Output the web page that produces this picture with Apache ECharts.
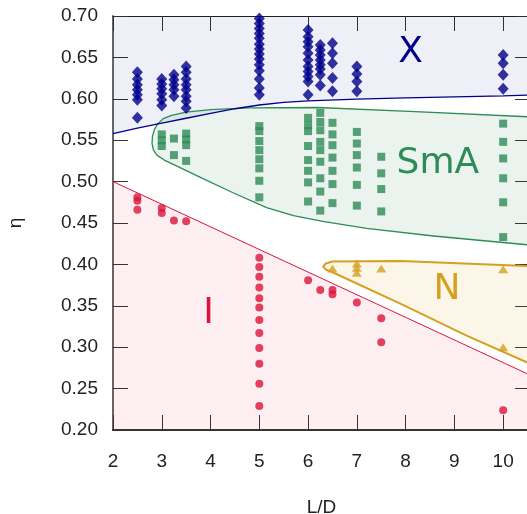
<!DOCTYPE html>
<html>
<head>
<meta charset="utf-8">
<script src="https://cdn.jsdelivr.net/npm/echarts@6/dist/echarts.min.js"></script>
<style>
  html, body { margin: 0; padding: 0; background: #fff; }
  #chart { width: 527px; height: 514px; }
</style>
</head>
<body>
<div id="chart"></div>
<script>
  // L/D columns and packing fractions per phase
  let xLD = [2.5, 3, 3.25, 3.5, 5, 6, 6.25, 6.5, 7, 10]
  let xEta = [
    [0.632, 0.624, 0.617, 0.611, 0.605, 0.599, 0.577],
    [0.624, 0.618, 0.612, 0.606, 0.599, 0.592],
    [0.629, 0.623, 0.617, 0.611, 0.603],
    [0.639, 0.632, 0.624, 0.617, 0.611, 0.603, 0.597, 0.589],
    [0.697, 0.691, 0.685, 0.679, 0.673, 0.666, 0.660, 0.654, 0.648, 0.641, 0.634, 0.624, 0.613, 0.605],
    [0.683, 0.675, 0.669, 0.663, 0.655, 0.647, 0.639, 0.633, 0.627, 0.621, 0.605],
    [0.665, 0.659, 0.653, 0.647, 0.641, 0.636, 0.629, 0.616],
    [0.667, 0.655, 0.643, 0.625, 0.609],
    [0.639, 0.630, 0.621, 0.609],
    [0.653, 0.643, 0.629, 0.612]
  ]

  let smaLD = [3, 3.25, 3.5, 5, 6, 6.25, 6.5, 7, 7.5, 10]
  let smaEta = [
    [0.557, 0.550, 0.543],
    [0.552, 0.532],
    [0.558, 0.551, 0.544, 0.525],
    [0.567, 0.561, 0.549, 0.538, 0.527, 0.516, 0.501, 0.481],
    [0.577, 0.568, 0.561, 0.543, 0.526, 0.513, 0.499, 0.476],
    [0.583, 0.572, 0.562, 0.548, 0.538, 0.524, 0.504, 0.488, 0.465],
    [0.571, 0.557, 0.544, 0.529, 0.513, 0.497, 0.474],
    [0.560, 0.546, 0.532, 0.517, 0.496, 0.471],
    [0.530, 0.510, 0.491, 0.464],
    [0.570, 0.548, 0.528, 0.504, 0.475, 0.433]
  ]

  let isoLD = [2.5, 3, 3.25, 3.5, 5, 6, 6.25, 6.5, 7, 7.5, 10]
  let isoEta = [
    [0.481, 0.477, 0.466],
    [0.468, 0.462],
    [0.453],
    [0.452],
    [0.408, 0.397, 0.385, 0.372, 0.359, 0.348, 0.333, 0.317, 0.299, 0.280, 0.256, 0.229],
    [0.381],
    [0.369],
    [0.369, 0.364],
    [0.354],
    [0.335, 0.306],
    [0.224]
  ]

  let nemLD = [6.5, 7, 7.5, 10]
  let nemEta = [
    [0.395],
    [0.401, 0.396, 0.390],
    [0.395],
    [0.394, 0.300]
  ]

  // phase boundaries [L/D, eta]
  let xBoundary = [
    [2, 0.558], [2.5, 0.5645], [3, 0.5705], [3.5, 0.5765], [4, 0.5825], [4.5, 0.588],
    [5, 0.5925], [5.5, 0.5958], [6, 0.5975], [7, 0.5995], [8, 0.601], [9, 0.6024], [10, 0.6036], [10.6, 0.6045]
  ]
  let isoBoundary = [[2, 0.500], [10.6, 0.265]]
  let smaBoundary = [
    [2.80, 0.546], [2.81, 0.555], [2.85, 0.563], [2.92, 0.570], [3.03, 0.576], [3.2, 0.580],
    [3.5, 0.584], [4.0, 0.587], [4.8, 0.589], [6.2, 0.5895], [8.2, 0.5845], [10.8, 0.5775],
    [10.8, 0.422], [8.57, 0.4343], [7.2, 0.4436], [6.3, 0.452], [5.7, 0.459], [5.15, 0.4685],
    [4.46, 0.4865], [3.78, 0.5055], [3.3, 0.519], [3.05, 0.526], [2.9, 0.532], [2.83, 0.538]
  ]
  let nemBoundary = [
    [6.31, 0.397], [6.36, 0.401], [6.5, 0.4035], [7.9, 0.404], [10.5, 0.398], [10.8, 0.397],
    [10.8, 0.273], [10.5, 0.2813], [9.25, 0.314], [7.88, 0.353], [6.5, 0.3905], [6.37, 0.3935]
  ]

  let phaseNames = ['X', 'SmA', 'N', 'I']
  let phasePos = [[8.1, 0.6556], [8.66, 0.5216], [8.85, 0.370], [3.96, 0.340]]

  let colors = {
    X: '#00008b',
    SmA: '#2e8b57',
    N: '#d4a020',
    I: '#dc143c'
  }

  let flatten = (ld, eta) => {
    let out = []
    ld.forEach((l, i) => eta[i].forEach(e => out.push([l, e])))
    return out
  }

  let regionSeries = function(points, stroke, fill, width){
    return {
      type: 'custom',
      clip: true,
      silent: true,
      z: 2,
      data: [0],
      renderItem: (params, api) => ({
        type: 'polygon',
        shape: { points: points.map(p => api.coord(p)) },
        style: { fill: fill, stroke: stroke, lineWidth: width, lineJoin: 'round' }
      })
    }
  }

  let tickStyle = { color: '#333', width: 1 }
  let font = 'Liberation Sans'

  let option = {
    animation: false,
    grid: { left: 113, right: -3, top: 16, bottom: 84, containLabel: false, outerBoundsMode: 'none' },
    xAxis: [{
      type: 'value',
      position: 'bottom',
      min: 2,
      max: 10.55,
      interval: 1,
      name: 'L/D',
      nameLocation: 'middle',
      nameGap: 68,
      nameTextStyle: { fontSize: 19, color: '#222', fontFamily: font },
      axisLine: { lineStyle: { color: '#333', width: 2 } },
      axisTick: { inside: true, length: 15, lineStyle: tickStyle },
      axisLabel: { fontSize: 19, color: '#222', margin: 22, fontFamily: font, showMaxLabel: false },
      splitLine: { show: false }
    }, {
      type: 'value',
      position: 'top',
      min: 2,
      max: 10.55,
      interval: 1,
      axisLine: { lineStyle: { color: '#222', width: 1 } },
      axisTick: { inside: true, length: 15, lineStyle: tickStyle },
      axisLabel: { show: false },
      splitLine: { show: false }
    }],
    yAxis: [{
      type: 'value',
      position: 'left',
      min: 0.2,
      max: 0.7,
      interval: 0.05,
      name: 'η',
      nameLocation: 'middle',
      nameGap: 88,
      nameRotate: 90,
      nameTextStyle: { fontSize: 19, color: '#222', fontFamily: font },
      axisLine: { lineStyle: { color: '#666', width: 2 } },
      axisTick: { inside: true, length: 15, lineStyle: tickStyle },
      axisLabel: { fontSize: 19, color: '#222', margin: 15, fontFamily: font, formatter: v => v.toFixed(2) },
      splitLine: { show: false }
    }, {
      type: 'value',
      position: 'right',
      min: 0.2,
      max: 0.7,
      interval: 0.05,
      axisLine: { lineStyle: { color: '#222', width: 1 } },
      axisTick: { inside: true, length: 15, lineStyle: tickStyle },
      axisLabel: { show: false },
      splitLine: { show: false }
    }],
    series: [{
      type: 'line',
      data: isoBoundary,
      symbol: 'none',
      silent: true,
      z: 2,
      lineStyle: { color: colors.I, width: 1 },
      areaStyle: { color: 'rgba(220,20,60,0.1)', origin: 'start' }
    }, {
      type: 'line',
      data: xBoundary,
      symbol: 'none',
      silent: true,
      z: 2,
      lineStyle: { color: colors.X, width: 1.3 },
      areaStyle: { color: 'rgba(0,0,139,0.09)', origin: 'end' }
    },
    regionSeries(smaBoundary, colors.SmA, 'rgba(46,139,87,0.1)', 1.3),
    regionSeries(nemBoundary, colors.N, 'rgba(218,165,32,0.1)', 2),
    {
      type: 'scatter',
      symbol: 'diamond',
      symbolSize: [11, 12],
      z: 4,
      itemStyle: { color: colors.X },
      data: flatten(xLD, xEta)
    }, {
      type: 'scatter',
      symbol: 'rect',
      symbolSize: 8,
      z: 4,
      itemStyle: { color: colors.SmA },
      data: flatten(smaLD, smaEta)
    }, {
      type: 'scatter',
      symbol: 'circle',
      symbolSize: 8,
      z: 4,
      itemStyle: { color: colors.I },
      data: flatten(isoLD, isoEta)
    }, {
      type: 'scatter',
      symbol: 'triangle',
      symbolSize: [10, 8],
      z: 4,
      itemStyle: { color: colors.N },
      data: flatten(nemLD, nemEta)
    }, {
      type: 'custom',
      silent: true,
      z: 5,
      data: phasePos,
      renderItem: (params, api) => {
        let p = api.coord([api.value(0), api.value(1)])
        let name = phaseNames[params.dataIndex]
        return {
          type: 'text',
          x: p[0],
          y: p[1],
          style: {
            text: name,
            fill: colors[name],
            fontSize: 36,
            fontFamily: 'DejaVu Sans',
            align: 'center',
            verticalAlign: 'middle'
          }
        }
      }
    }]
  }

  let chart = echarts.init(document.getElementById('chart'))
  chart.setOption(option)
</script>
</body>
</html>
